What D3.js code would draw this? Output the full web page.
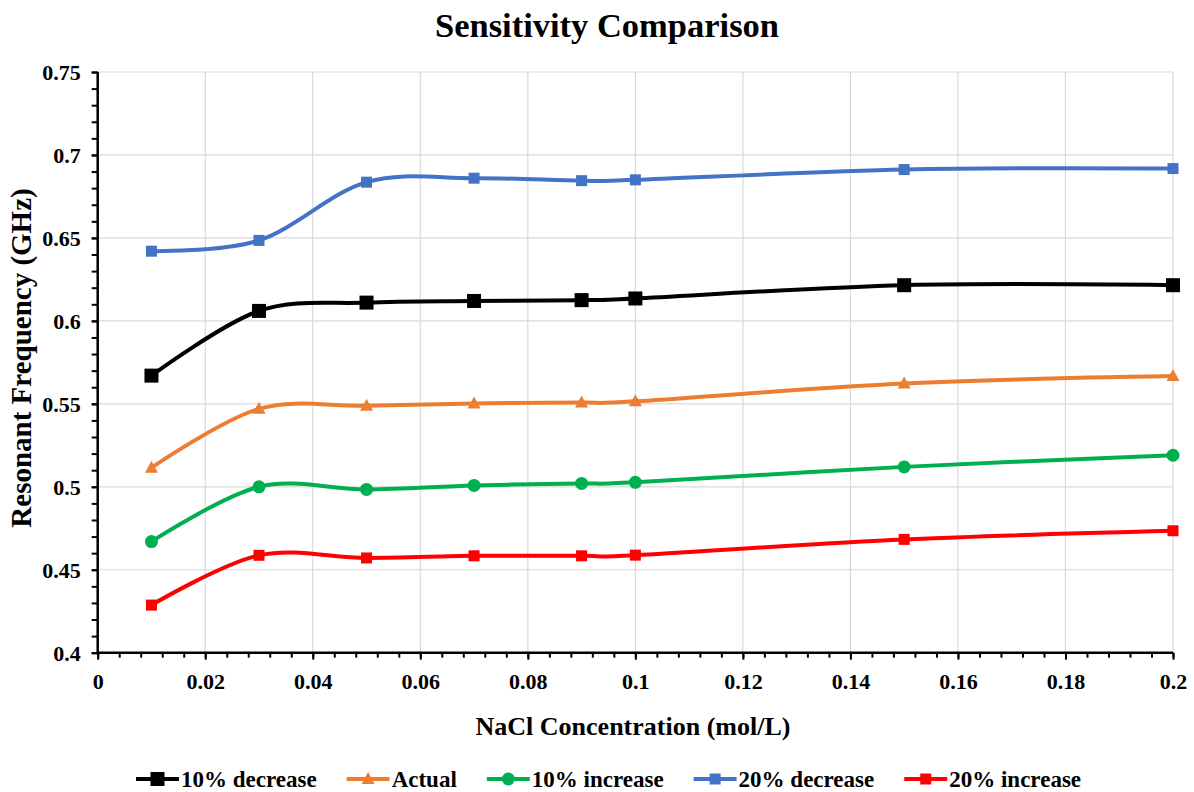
<!DOCTYPE html>
<html>
<head>
<meta charset="utf-8">
<script src="https://cdn.jsdelivr.net/npm/d3@7"></script>
<style>
  html, body { margin: 0; padding: 0; background: #fff; }
  svg { display: block; }
  svg text { font-family: "Liberation Serif", "Times New Roman", Times, "DejaVu Serif", serif !important; font-weight: bold; fill: #000; }
</style>
</head>
<body>
<svg id="chart" width="1194" height="792"></svg>
<script>
// NaCl concentrations (mol/L)
const concentrations = [0.01, 0.03, 0.05, 0.07, 0.09, 0.1, 0.15, 0.2];

// Resonant frequency (GHz) for each case
const decrease10 = [0.567, 0.606, 0.611, 0.612, 0.6125, 0.6135, 0.6215, 0.6215];
const actual     = [0.5115, 0.547, 0.5488, 0.5502, 0.5508, 0.5515, 0.5623, 0.5667];
const increase10 = [0.467, 0.500, 0.4984, 0.5008, 0.502, 0.5027, 0.512, 0.519];
const decrease20 = [0.642, 0.6485, 0.6836, 0.686, 0.6845, 0.685, 0.6912, 0.6918];
const increase20 = [0.4287, 0.4587, 0.4571, 0.4584, 0.4584, 0.4588, 0.4683, 0.4735];

const seriesNames = ["10% decrease", "Actual", "10% increase", "20% decrease", "20% increase"];
const seriesValues = [decrease10, actual, increase10, decrease20, increase20];
const seriesColors = ["#000000", "#ED7D31", "#00B050", "#4472C4", "#FF0000"];
const seriesMarkers = ["bigsquare", "triangle", "circle", "square", "square"];

// Axis ticks
const xMajorTicks = [0, 0.02, 0.04, 0.06, 0.08, 0.1, 0.12, 0.14, 0.16, 0.18, 0.2];
const yMajorTicks = [0.4, 0.45, 0.5, 0.55, 0.6, 0.65, 0.7, 0.75];

const titleText = "Sensitivity Comparison";
const xTitle = "NaCl Concentration (mol/L)";
const yTitle = "Resonant Frequency (GHz)";

const svg = d3.select("#chart");
const plot = { left: 97.7, right: 1173, top: 72, bottom: 652.7 };

const x = d3.scaleLinear().domain([0, 0.2]).range([plot.left, plot.right]);
const y = d3.scaleLinear().domain([0.4, 0.75]).range([plot.bottom, plot.top]);

// Gridlines
const grid = svg.append("g").attr("class", "grid");
grid.selectAll("line.v").data(xMajorTicks.filter(d => d > 0)).join("line")
  .attr("x1", d => x(d)).attr("x2", d => x(d))
  .attr("y1", plot.top).attr("y2", plot.bottom)
  .attr("stroke", "#d9d9d9").attr("stroke-width", 1.2);
grid.selectAll("line.h").data(yMajorTicks.filter(d => d > 0.4)).join("line")
  .attr("x1", plot.left).attr("x2", plot.right)
  .attr("y1", d => y(d)).attr("y2", d => y(d))
  .attr("stroke", "#d9d9d9").attr("stroke-width", 1.2);

// Minor ticks
const xMinor = d3.range(0, 51).map(i => i * 0.004);
const yMinor = d3.range(0, 36).map(i => 0.4 + i * 0.01);

const xAxisG = svg.append("g").attr("transform", `translate(0,${plot.bottom})`);
xAxisG.call(d3.axisBottom(x).tickValues(xMinor).tickSize(5).tickFormat(""));
xAxisG.selectAll(".tick line").attr("stroke", "#000").attr("stroke-width", 2);
xAxisG.select(".domain").remove();

const xLabels = svg.append("g").attr("transform", `translate(0,${plot.bottom})`);
xLabels.call(d3.axisBottom(x).tickValues(xMajorTicks).tickSize(7)
  .tickFormat(d => d3.format("~g")(+d.toFixed(2))));
xLabels.select(".domain").remove();
xLabels.selectAll(".tick line").attr("stroke", "#000").attr("stroke-width", 2);
xLabels.selectAll(".tick text")
  .attr("y", 0).attr("dy", "36px")
  .style("font-size", "22px");

const yAxisG = svg.append("g").attr("transform", `translate(${plot.left},0)`);
yAxisG.call(d3.axisLeft(y).tickValues(yMinor).tickSize(6).tickFormat(""));
yAxisG.selectAll(".tick line").attr("stroke", "#000").attr("stroke-width", 2);
yAxisG.select(".domain").remove();

const yLabels = svg.append("g").attr("transform", `translate(${plot.left},0)`);
yLabels.call(d3.axisLeft(y).tickValues(yMajorTicks).tickSize(6)
  .tickFormat(d => d3.format("~g")(+d.toFixed(2))));
yLabels.select(".domain").remove();
yLabels.selectAll(".tick line").attr("stroke", "#000").attr("stroke-width", 2);
yLabels.selectAll(".tick text")
  .attr("x", -17).attr("dy", "0.35em")
  .style("font-size", "22px");

// Axis lines
svg.append("line").attr("x1", plot.left).attr("x2", plot.right)
  .attr("y1", plot.bottom).attr("y2", plot.bottom).attr("stroke", "#000").attr("stroke-width", 2.5);
svg.append("line").attr("x1", plot.left).attr("x2", plot.left)
  .attr("y1", plot.top).attr("y2", plot.bottom).attr("stroke", "#000").attr("stroke-width", 2.5);

// Marker drawing
function drawMarker(g, type, color, cx, cy) {
  if (type === "bigsquare") {
    g.append("rect").attr("x", cx - 7).attr("y", cy - 7).attr("width", 14).attr("height", 14).attr("fill", color);
  } else if (type === "square") {
    g.append("rect").attr("x", cx - 5.5).attr("y", cy - 5.5).attr("width", 11).attr("height", 11).attr("fill", color);
  } else if (type === "circle") {
    g.append("circle").attr("cx", cx).attr("cy", cy).attr("r", 6.5).attr("fill", color);
  } else if (type === "triangle") {
    g.append("path")
      .attr("d", `M${cx},${cy - 7} L${cx + 6.5},${cy + 5} L${cx - 6.5},${cy + 5} Z`)
      .attr("fill", color);
  }
}

// Smoothed series lines with markers
const line = d3.line()
  .x(d => x(d[0]))
  .y(d => y(d[1]))
  .curve(d3.curveCardinal.tension(0));

const seriesG = svg.append("g");
seriesValues.forEach((vals, i) => {
  const pts = concentrations.map((c, j) => [c, vals[j]]);
  const g = seriesG.append("g");
  g.append("path").datum(pts)
    .attr("d", line)
    .attr("fill", "none")
    .attr("stroke", seriesColors[i])
    .attr("stroke-width", 4)
    .attr("stroke-linejoin", "round")
    .attr("stroke-linecap", "round");
  pts.forEach(p => drawMarker(g, seriesMarkers[i], seriesColors[i], x(p[0]), y(p[1])));
});

// Title
svg.append("text")
  .attr("x", 607).attr("y", 37)
  .attr("text-anchor", "middle")
  .style("font-size", "34.5px")
  .text(titleText);

// Axis titles
svg.append("text")
  .attr("x", 633).attr("y", 735)
  .attr("text-anchor", "middle")
  .style("font-size", "26px")
  .text(xTitle);

svg.append("text")
  .attr("transform", "translate(31,358) rotate(-90)")
  .attr("text-anchor", "middle")
  .style("font-size", "29px")
  .text(yTitle);

// Legend
const legend = svg.append("g");
let lx = 136;
const ly = 779;
seriesNames.forEach((name, i) => {
  const item = legend.append("g");
  item.append("line")
    .attr("x1", lx).attr("x2", lx + 43)
    .attr("y1", ly).attr("y2", ly)
    .attr("stroke", seriesColors[i]).attr("stroke-width", 4);
  drawMarker(item, seriesMarkers[i], seriesColors[i], lx + 21.5, ly);
  const t = item.append("text")
    .attr("x", lx + 45).attr("y", ly).attr("dy", "0.35em")
    .style("font-size", "23px")
    .text(name);
  lx += 45 + t.node().getComputedTextLength() + 30;
});
</script>
</body>
</html>
